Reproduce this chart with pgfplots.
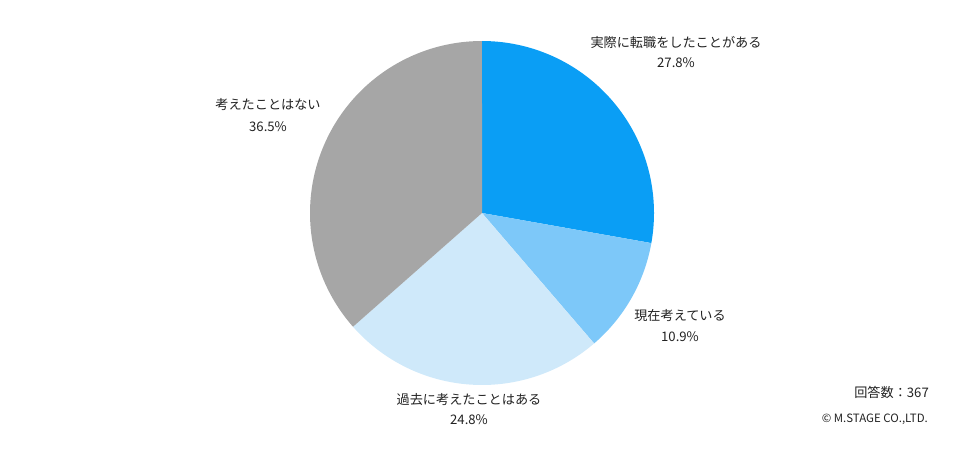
\documentclass[border=0pt]{standalone}
\usepackage{pgfplots}
\pgfplotsset{compat=1.18}
\usepackage{fontspec}
\setmainfont{Noto Sans CJK JP}
\definecolor{cA}{HTML}{0A9EF5}
\definecolor{cB}{HTML}{7DC8F9}
\definecolor{cC}{HTML}{CFE9FA}
\definecolor{cD}{HTML}{A6A6A6}
\definecolor{txt}{HTML}{222222}
% shares (percent)
\def\pA{27.8}\def\pB{10.9}\def\pC{24.8}\def\pD{36.5}
\pgfmathsetmacro{\aA}{90}
\pgfmathsetmacro{\aB}{90-3.6*\pA}
\pgfmathsetmacro{\aC}{\aB-3.6*\pB}
\pgfmathsetmacro{\aD}{\aC-3.6*\pC}
\pgfmathsetmacro{\aE}{\aD-3.6*\pD}
\def\cx{482}\def\cy{213}\def\R{172}
\tikzset{lab/.style={font=\fontsize{13.2}{15}\selectfont, text=txt, align=center, inner sep=0pt}}
\begin{document}
\begin{tikzpicture}
\begin{axis}[
  scale only axis, width=976bp, height=459bp,
  xmin=0, xmax=976, ymin=0, ymax=459, y dir=reverse,
  hide axis, clip=false,
]
\addplot[fill=cA, draw=none, domain=\aA:\aB, samples=80] ({\cx+\R*cos(x)},{\cy-\R*sin(x)}) -- (axis cs:\cx,\cy) -- cycle;
\addplot[fill=cB, draw=none, domain=\aB:\aC, samples=40] ({\cx+\R*cos(x)},{\cy-\R*sin(x)}) -- (axis cs:\cx,\cy) -- cycle;
\addplot[fill=cC, draw=none, domain=\aC:\aD, samples=80] ({\cx+\R*cos(x)},{\cy-\R*sin(x)}) -- (axis cs:\cx,\cy) -- cycle;
\addplot[fill=cD, draw=none, domain=\aD:\aE, samples=100] ({\cx+\R*cos(x)},{\cy-\R*sin(x)}) -- (axis cs:\cx,\cy) -- cycle;
\node[lab] at (axis cs:676,42) {実際に転職をしたことがある};
\node[lab] at (axis cs:676,63) {\pA\%};
\node[lab] at (axis cs:680,316) {現在考えている};
\node[lab] at (axis cs:680,337) {\pB\%};
\node[lab] at (axis cs:469,400) {過去に考えたことはある};
\node[lab] at (axis cs:469,420) {\pC\%};
\node[lab] at (axis cs:268,105) {考えたことはない};
\node[lab] at (axis cs:268,127) {\pD\%};
\node[lab, anchor=east, font=\fontsize{13.2}{15}\selectfont] at (axis cs:929,392) {回答数：367};
\node[lab, anchor=east, font=\fontsize{11.5}{13}\selectfont] at (axis cs:928,419) {© M.STAGE CO.,LTD.};
\end{axis}
\path (current axis.south west) (current axis.north east);
\end{tikzpicture}
\end{document}
